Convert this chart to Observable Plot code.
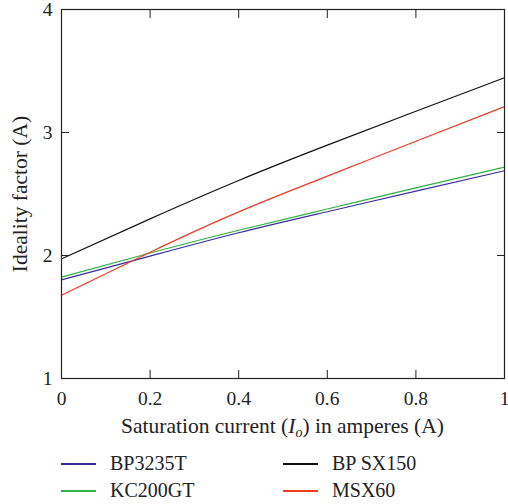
<!DOCTYPE html>
<html>
<head>
<meta charset="utf-8">
<script src="https://cdn.jsdelivr.net/npm/d3@7"></script>
<script src="https://cdn.jsdelivr.net/npm/@observablehq/plot@0.6"></script>
<style>
  html, body { margin: 0; padding: 0; background: #fff; }
  #wrap { position: relative; width: 508px; height: 504px; font-family: "Liberation Serif", "Times New Roman", Tinos, "DejaVu Serif", "Noto Serif", serif; color: #222; }
  #xtitle { position: absolute; left: 61px; width: 443px; top: 413px; text-align: center; font-size: 21.5px; line-height: 26px; white-space: nowrap; }
  #legend { position: absolute; left: 61px; top: 450px; display: grid; grid-template-columns: 222px 200px; row-gap: 0px; font-size: 20px; }
  .item { display: flex; align-items: center; height: 27px; }
  .sw { width: 35px; height: 0; border-top: 2px solid; margin-right: 14px; }
</style>
</head>
<body>
<div id="wrap"></div>
<script>
// Data
const xValues = [0, 0.2, 0.4, 0.6, 0.8, 1];
const seriesNames = ["BP3235T", "KC200GT", "BP SX150", "MSX60"];
const seriesColors = ["#35309e", "#2fb344", "#111111", "#ee3b24"];
const bp3235t = [1.802, 1.995, 2.185, 2.356, 2.524, 2.689];
const kc200gt = [1.824, 2.02, 2.205, 2.378, 2.55, 2.718];
const bpsx150 = [1.973, 2.298, 2.61, 2.897, 3.173, 3.445];
const msx60 = [1.677, 2.027, 2.355, 2.645, 2.929, 3.21];
const xTicks = [0, 0.2, 0.4, 0.6, 0.8, 1];
const yTicks = [1, 2, 3, 4];
const xTitle = "Saturation current";
const yTitle = "Ideality factor (A)";

const serif = "'Liberation Serif', 'Times New Roman', Tinos, 'DejaVu Serif', 'Noto Serif', serif";

const seriesValues = [bp3235t, kc200gt, bpsx150, msx60];
const rows = [];
seriesNames.forEach((name, i) => {
  xValues.forEach((x, j) => rows.push({series: name, x, y: seriesValues[i][j]}));
});

const fmtX = d => (d === 0 || d === 1) ? String(d) : d.toFixed(1);

const chart = Plot.plot({
  width: 508,
  height: 410,
  marginLeft: 61,
  marginRight: 4,
  marginTop: 9,
  marginBottom: 32,
  style: {fontFamily: serif, fontSize: "19px", color: "#222", background: "#fff"},
  x: {domain: [0, 1]},
  y: {domain: [1, 4]},
  color: {domain: seriesNames, range: seriesColors},
  marks: [
    Plot.line(rows, {x: "x", y: "y", z: "series", stroke: "series", strokeWidth: 1.2, curve: "natural"}),
    Plot.frame({stroke: "#222", strokeWidth: 1.2}),
    Plot.axisX({anchor: "bottom", ticks: xTicks, tickSize: -8, tickPadding: 21, tickFormat: fmtX, label: null, stroke: "#222", fill: "#222", fontSize: 19.5, fontFamily: serif}),
    Plot.axisX({anchor: "top", ticks: xTicks, tickSize: -8, tickFormat: () => "", label: null, stroke: "#222"}),
    Plot.axisY({anchor: "left", ticks: yTicks, tickSize: -8, tickPadding: 17, tickFormat: d => String(d), label: null, stroke: "#222", fill: "#222", fontSize: 19.5, fontFamily: serif}),
    Plot.axisY({anchor: "right", ticks: yTicks, tickSize: -8, tickFormat: () => "", label: null, stroke: "#222"}),
    Plot.text([yTitle], {text: d => d, frameAnchor: "left", textAnchor: "middle", lineAnchor: "middle", dx: -41, rotate: -90, fontSize: 21.5, fontFamily: serif, fill: "#222"})
  ]
});

const wrap = document.getElementById("wrap");
wrap.appendChild(chart);

const title = document.createElement("div");
title.id = "xtitle";
title.innerHTML = xTitle + " (<i>I</i><sub style=\"font-size:14px;font-style:italic;vertical-align:-4px\">o</sub>) in amperes (A)";
wrap.appendChild(title);

const legend = document.createElement("div");
legend.id = "legend";
const order = [0, 2, 1, 3];
order.forEach(i => {
  const item = document.createElement("div");
  item.className = "item";
  const sw = document.createElement("span");
  sw.className = "sw";
  sw.style.borderColor = seriesColors[i];
  const lab = document.createElement("span");
  lab.textContent = seriesNames[i];
  item.appendChild(sw);
  item.appendChild(lab);
  legend.appendChild(item);
});
wrap.appendChild(legend);
</script>
</body>
</html>
